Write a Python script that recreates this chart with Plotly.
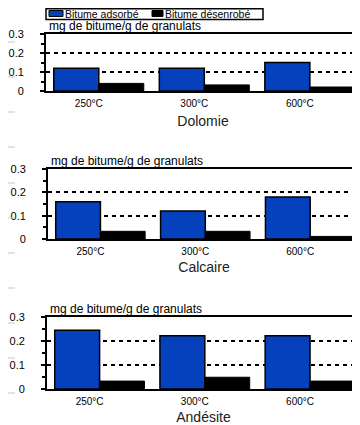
import plotly.graph_objects as go

categories = ["250°C", "300°C", "600°C"]
panels = ["Dolomie", "Calcaire", "Andésite"]
series_names = ["Bitume adsorbé", "Bitume désenrobé"]
adsorbe = {
    "Dolomie": [0.12, 0.12, 0.15],
    "Calcaire": [0.16, 0.12, 0.18],
    "Andésite": [0.245, 0.222, 0.222],
}
desenrobe = {
    "Dolomie": [0.04, 0.032, 0.021],
    "Calcaire": [0.033, 0.033, 0.011],
    "Andésite": [0.033, 0.049, 0.033],
}
y_ticks = [0, 0.1, 0.2, 0.3]
y_ticktext = ["0", "0.1", "0.2", "0.3"]
unit_label = "mg de bitume/g de granulats"

# the page body has an 8px default margin: figure occupies (8..360, 8..425)
OFF = 8
W, H = 360 - OFF, 425 - OFF
BLUE = "#0541BC"
FONT = "Liberation Sans, Arial, sans-serif"
NARROW = "Liberation Sans Narrow, Liberation Sans, Arial, sans-serif"
colors = [BLUE, "black"]

# pixel geometry per panel in window coordinates: (plot top, plot bottom, axis x)
geom = [(34, 91, 46), (169, 239, 48), (317, 389, 47)]
title_standoff = [8, 6, 6]

def px(x):
    return (x - OFF) / W

def py(y):
    return 1 - (y - OFF) / H

fig = go.Figure()
for i, name in enumerate(panels):
    top, bot, xl = geom[i]
    xa = "x" if i == 0 else f"x{i+1}"
    ya = "y" if i == 0 else f"y{i+1}"
    fig.add_trace(go.Bar(
        x=categories, y=adsorbe[name], name=series_names[0],
        marker=dict(color=colors[0], line=dict(color="black", width=1.5)),
        xaxis=xa, yaxis=ya, showlegend=False))
    fig.add_trace(go.Bar(
        x=categories, y=desenrobe[name], name=series_names[1],
        marker=dict(color=colors[1], line=dict(color="black", width=1)),
        xaxis=xa, yaxis=ya, showlegend=False))

    xkey = "xaxis" if i == 0 else f"xaxis{i+1}"
    ykey = "yaxis" if i == 0 else f"yaxis{i+1}"
    fig.layout[xkey] = dict(
        domain=[px(xl), 1.0], anchor=ya, type="category", automargin=False,
        range=[-0.5, 2.475], showline=True, linecolor="black", linewidth=1.8,
        mirror=True, ticks="", showgrid=False, ticklabelshift=-10,
        tickfont=dict(family=NARROW, size=10, color="black"), ticklabelstandoff=2,
        title=dict(text=name, font=dict(family=FONT, size=14, color="#222"),
                   standoff=title_standoff[i]),
        fixedrange=True)
    fig.layout[ykey] = dict(
        domain=[py(bot), py(top)], anchor=xa, range=[0, 0.3], automargin=False,
        tickvals=y_ticks, ticktext=y_ticktext, ticks="outside", ticklen=4,
        tickcolor="black", tickwidth=1.5,
        minor=dict(dtick=0.05, ticks="outside", ticklen=3, tickcolor="black", showgrid=False),
        showline=True, linecolor="black", linewidth=1.8,
        showgrid=True, gridcolor="black", griddash="4px,4px", gridwidth=1.6,
        zeroline=False, ticklabelstandoff=14,
        tickfont=dict(family=NARROW, size=11, color="black"), fixedrange=True)
    fig.add_annotation(
        text=unit_label, xref="paper", yref="paper", x=px(xl + 1),
        y=py(top), xanchor="left", yanchor="bottom", yshift=-1,
        showarrow=False, font=dict(family=FONT, size=12, color="black"))

shapes = []
# left-edge page artifacts (faint grey rules)
for yy in [42, 77, 112, 147, 183, 218, 253, 288, 323, 358, 393]:
    shapes.append(dict(type="line", xref="paper", yref="paper",
                       x0=0, x1=px(15), y0=py(yy), y1=py(yy),
                       line=dict(color="#c8c8c8", width=1)))

# legend box (drawn in page coordinates)
shapes.append(dict(type="rect", xref="paper", yref="paper",
                   x0=px(46), x1=px(263), y0=py(19.5), y1=py(8.7),
                   line=dict(color="black", width=1.5), fillcolor="white"))
legend_x = [(49, 63), (152, 163)]
for (x0, x1), c, nm in zip(legend_x, colors, series_names):
    shapes.append(dict(type="rect", xref="paper", yref="paper",
                       x0=px(x0), x1=px(x1), y0=py(16.5), y1=py(10.5),
                       line=dict(color="black", width=1), fillcolor=c))
    fig.add_annotation(text=nm, xref="paper", yref="paper", x=px(x1),
                       y=py(13.5), xanchor="left", yanchor="middle",
                       showarrow=False,
                       font=dict(family=FONT, size=10.5, color="black"))

fig.update_layout(
    width=W, height=H, margin=dict(l=0, r=0, t=0, b=0),
    paper_bgcolor="white", plot_bgcolor="white",
    barmode="group", bargap=0.147, bargroupgap=0,
    shapes=shapes, showlegend=False,
)

fig.write_html("out.html")
